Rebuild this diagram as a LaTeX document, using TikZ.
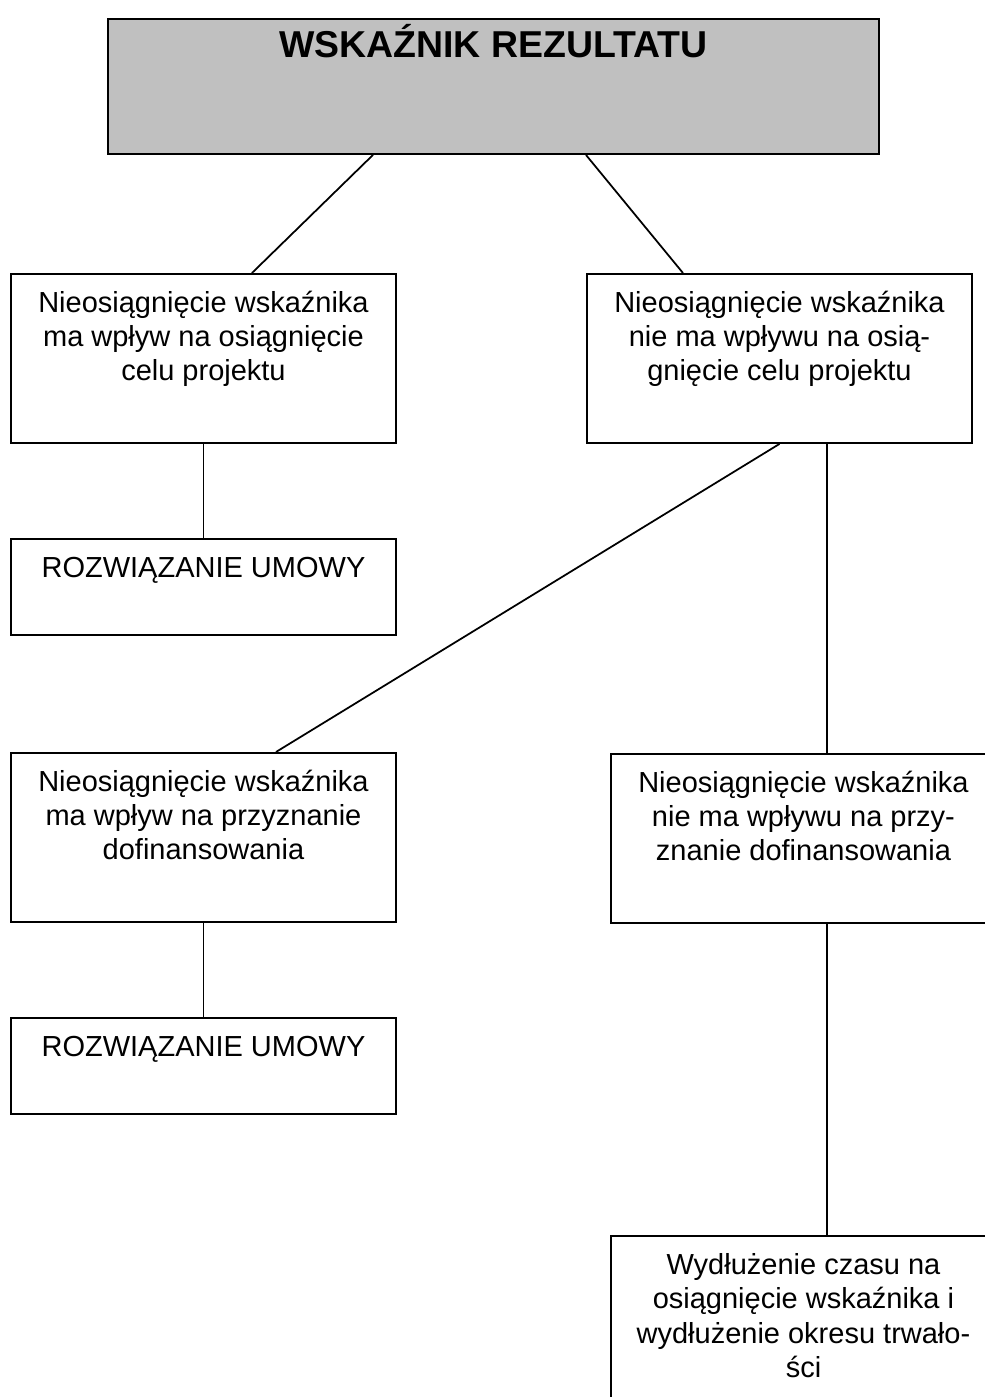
\documentclass[tikz,border=0pt]{standalone}
\usepackage{fontspec}
\setmainfont{Liberation Sans}
\usepackage{xcolor}
\definecolor{wrgray}{RGB}{192,192,192}
\usepackage{tikz}
\usetikzlibrary{calc}

% text set from the top of a fixed box
\newcommand{\celltext}[3]{\parbox[c][#1][t]{#2}{\centering\rule{0pt}{22.2pt}#3}}

\begin{document}
\begin{tikzpicture}[
    cell/.style={draw, line width=1.1pt, inner sep=0pt, anchor=north west,
                 font=\fontsize{16.5pt}{19.35pt}\selectfont},
    headcell/.style={cell, fill=wrgray,
                 font=\fontsize{21.3pt}{25pt}\selectfont\bfseries},
    link/.style={draw, line width=1pt}
  ]

  % Page frame
  \path[use as bounding box, clip] (0,0) rectangle (19.7,-27.94);

  % Main box
  \node[headcell] (res) at (2.14,-0.36) {\celltext{2.7cm}{15.42cm}{WSKAŹNIK REZULTATU}};

  % First level
  \node[cell] (cel) at (0.2,-5.46)
        {\celltext{3.38cm}{7.7cm}{Nieosiągnięcie wskaźnika\\ma wpływ na osiągnięcie\\celu projektu}};
  \node[cell] (nocel) at (11.72,-5.46)
        {\celltext{3.38cm}{7.7cm}{Nieosiągnięcie wskaźnika\\nie ma wpływu na osią-\\gnięcie celu projektu}};

  \node[cell] (umowa1) at (0.2,-10.76)
        {\celltext{1.92cm}{7.7cm}{ROZWIĄZANIE UMOWY}};

  % Second level
  \node[cell] (dof) at (0.2,-15.04)
        {\celltext{3.38cm}{7.7cm}{Nieosiągnięcie wskaźnika\\ma wpływ na przyznanie\\dofinansowania}};
  \node[cell] (nodof) at (12.2,-15.06)
        {\celltext{3.38cm}{7.7cm}{Nieosiągnięcie wskaźnika\\nie ma wpływu na przy-\\znanie dofinansowania}};

  \node[cell] (umowa2) at (0.2,-20.34)
        {\celltext{1.92cm}{7.7cm}{ROZWIĄZANIE UMOWY}};

  \node[cell] (trwal) at (12.2,-24.7)
        {\celltext{3.38cm}{7.7cm}{Wydłużenie czasu na\\osiągnięcie wskaźnika i\\wydłużenie okresu trwało-\\ści}};

  % Connectors
  \draw[link] ($(res.south)+(-2.41,0)$) -- ($(cel.north)+(0.97,0)$);
  \draw[link] ($(res.south)+(1.85,0)$) -- ($(nocel.north)+(-1.93,0)$);
  \draw[link] (cel.south) -- (umowa1.north);
  \draw[link] (nocel.south) -- ($(dof.north)+(1.45,0)$);
  \draw[link] ($(nocel.south)+(0.95,0)$) coordinate (split) -- (split |- nodof.north);
  \draw[link] (split |- nodof.south) -- (split |- trwal.north);
  \draw[link] (dof.south) -- (umowa2.north);

\end{tikzpicture}
\end{document}
